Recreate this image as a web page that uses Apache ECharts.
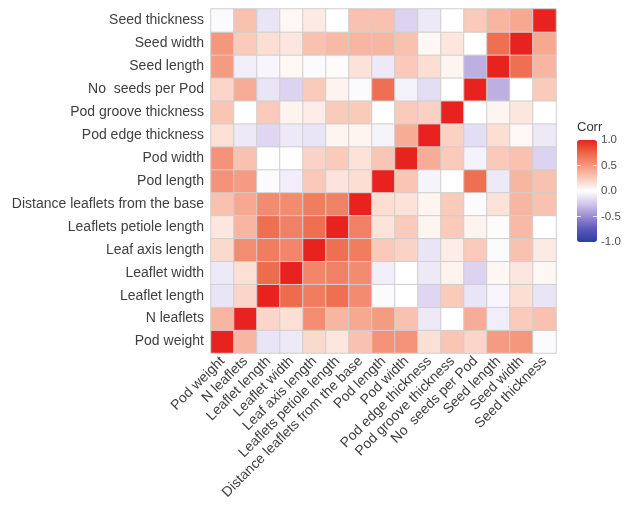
<!DOCTYPE html>
<html>
<head>
<meta charset="utf-8">
<title>Correlation matrix</title>
<script src="https://cdn.jsdelivr.net/npm/echarts@6/dist/echarts.min.js"></script>
<style>
  html, body { margin: 0; padding: 0; background: #ffffff; }
  #chart { width: 629px; height: 509px; }
</style>
</head>
<body>
<div id="chart"></div>
<script>
// Trait names, in axis order (first = bottom of y axis / left of x axis)
const traits = [
  'Pod weight', 'N leaflets', 'Leaflet length', 'Leaflet width',
  'Leaf axis length', 'Leaflets petiole length', 'Distance leaflets from the base',
  'Pod length', 'Pod width', 'Pod edge thickness', 'Pod groove thickness',
  'No  seeds per Pod', 'Seed length', 'Seed width', 'Seed thickness'
];

// Pearson correlations of each trait with every trait (same order as traits)
const podWeight      = [1, 0.35, -0.12, -0.1, 0.18, 0.12, 0.3, 0.52, 0.52, 0.15, 0.28, 0.2, 0.48, 0.5, -0.02];
const nLeaflets      = [0.35, 1, 0.2, 0.15, 0.55, 0.35, 0.42, 0.48, 0.3, -0.1, 0.0, 0.4, -0.08, 0.25, 0.3];
const leafletLength  = [-0.12, 0.2, 1, 0.72, 0.63, 0.7, 0.56, -0.02, 0.0, -0.18, 0.25, -0.12, -0.04, 0.16, -0.12];
const leafletWidth   = [-0.1, 0.15, 0.72, 1, 0.59, 0.61, 0.56, -0.08, 0.0, -0.1, 0.06, -0.2, 0.04, 0.12, 0.04];
const leafAxisLength = [0.18, 0.55, 0.63, 0.59, 1, 0.7, 0.63, 0.26, 0.21, -0.12, 0.09, 0.25, -0.02, 0.3, 0.1];
const petioleLength  = [0.12, 0.35, 0.7, 0.61, 0.7, 1, 0.61, 0.13, 0.25, 0.05, 0.25, 0.06, 0.02, 0.33, 0.0];
const leafletDist    = [0.3, 0.42, 0.56, 0.56, 0.63, 0.61, 1, 0.16, 0.14, 0.05, 0.25, -0.02, 0.14, 0.35, 0.3];
const podLength      = [0.52, 0.48, -0.02, -0.08, 0.26, 0.13, 0.16, 1, 0.28, -0.05, 0.0, 0.7, -0.1, 0.35, 0.3];
const podWidth       = [0.52, 0.3, 0.0, 0.0, 0.21, 0.25, 0.14, 0.28, 1, 0.4, 0.25, -0.06, 0.26, 0.3, -0.2];
const podEdge        = [0.15, -0.1, -0.18, -0.1, -0.12, 0.05, 0.05, -0.05, 0.4, 1, 0.22, -0.15, 0.16, 0.04, -0.1];
const podGroove      = [0.28, 0.0, 0.25, 0.06, 0.09, 0.25, 0.25, 0.0, 0.25, 0.22, 1, 0.0, 0.05, 0.12, 0.0];
const seedsPerPod    = [0.2, 0.4, -0.12, -0.2, 0.25, 0.06, -0.02, 0.7, -0.06, -0.15, 0.0, 1, -0.35, 0.0, 0.25];
const seedLength     = [0.48, -0.08, -0.04, 0.04, -0.02, 0.02, 0.14, -0.1, 0.26, 0.16, 0.05, -0.35, 1, 0.7, 0.35];
const seedWidth      = [0.5, 0.25, 0.16, 0.12, 0.3, 0.33, 0.35, 0.35, 0.3, 0.04, 0.12, 0.0, 0.7, 1, 0.42];
const seedThickness  = [-0.02, 0.3, -0.12, 0.04, 0.1, 0.0, 0.3, 0.3, -0.2, -0.1, 0.0, 0.25, 0.35, 0.42, 1];

const rows = [podWeight, nLeaflets, leafletLength, leafletWidth, leafAxisLength,
  petioleLength, leafletDist, podLength, podWidth, podEdge, podGroove,
  seedsPerPod, seedLength, seedWidth, seedThickness];

// Colour bar ticks
const legendTicks = [1.0, 0.5, 0.0, -0.5, -1.0];

// Heatmap cells: [x index, y index, value]
const cells = [];
rows.forEach((row, yi) => {
  row.forEach((v, xi) => cells.push([xi, yi, v]));
});

const FONT = "'Liberation Sans', Arial, sans-serif";
const barLeft = 577, barTop = 140, barW = 20, barH = 102;
const tickY = v => barTop + (1 - v) / 2 * barH;

const graphics = [
  { type: 'text', left: 577, top: 121,
    style: { text: 'Corr', font: '13px ' + FONT, fill: '#333333' } }
];
legendTicks.forEach(v => {
  graphics.push({
    type: 'text', x: 601, y: tickY(v),
    style: { text: v.toFixed(1), font: '11.5px ' + FONT, fill: '#4d4d4d',
             textVerticalAlign: 'middle', verticalAlign: 'middle' },
    z: 100
  });
  if (Math.abs(v) < 1) {
    graphics.push({ type: 'line', z: 100,
      shape: { x1: barLeft, y1: tickY(v), x2: barLeft + 4, y2: tickY(v) },
      style: { stroke: '#ffffff', lineWidth: 1, opacity: 0.8 } });
    graphics.push({ type: 'line', z: 100,
      shape: { x1: barLeft + barW - 4, y1: tickY(v), x2: barLeft + barW, y2: tickY(v) },
      style: { stroke: '#ffffff', lineWidth: 1, opacity: 0.8 } });
  }
});

const chart = echarts.init(document.getElementById('chart'), null, { renderer: 'canvas' });
chart.setOption({
  backgroundColor: '#ffffff',
  animation: false,
  grid: { left: 211, top: 9, width: 345, height: 344, containLabel: false },
  xAxis: {
    type: 'category',
    data: traits,
    axisLine: { show: false },
    axisTick: { show: false },
    splitLine: { show: false },
    axisLabel: {
      rotate: 45, interval: 0, margin: 6,
      fontSize: 14, fontFamily: FONT, color: '#3f3f3f'
    }
  },
  yAxis: {
    type: 'category',
    data: traits,
    axisLine: { show: false },
    axisTick: { show: false },
    splitLine: { show: false },
    axisLabel: {
      interval: 0, margin: 7,
      fontSize: 14, fontFamily: FONT, color: '#3f3f3f'
    }
  },
  visualMap: {
    type: 'continuous',
    min: -1, max: 1,
    calculable: false,
    orient: 'vertical',
    left: barLeft, top: barTop,
    itemWidth: barW, itemHeight: barH,
    padding: 0,
    text: null,
    showLabel: false,
    inRange: {
      color: ['#2b3f9c', '#5a58b8', '#9a8bd2', '#d2c8ec', '#ffffff',
              '#facbbb', '#f4977d', '#ee6548', '#e8221f']
    }
  },
  series: [{
    type: 'heatmap',
    data: cells,
    itemStyle: { borderColor: '#cfcfcf', borderWidth: 1 },
    emphasis: { disabled: true }
  }],
  graphic: graphics
});
</script>
</body>
</html>
